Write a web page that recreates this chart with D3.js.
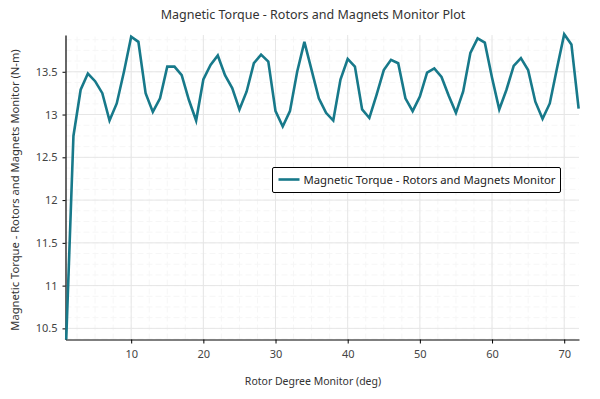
<!DOCTYPE html>
<html>
<head>
<meta charset="utf-8">
<script src="https://cdn.jsdelivr.net/npm/d3@7"></script>
<style>
	body { margin: 0; background: #fff; }
	text { font-family: "Noto Sans", "Open Sans", sans-serif; }
</style>
</head>
<body>
<svg id="chart" width="600" height="399"></svg>
<script>
// rotor angle (deg) and torque (N-m)
const degrees = [1, 2, 3, 4, 5, 6, 7, 8, 9, 10, 11, 12, 13, 14, 15, 16, 17, 18, 19, 20, 21, 22, 23, 24,
	25, 26, 27, 28, 29, 30, 31, 32, 33, 34, 35, 36, 37, 38, 39, 40, 41, 42, 43, 44, 45, 46, 47, 48,
	49, 50, 51, 52, 53, 54, 55, 56, 57, 58, 59, 60, 61, 62, 63, 64, 65, 66, 67, 68, 69, 70, 71, 72]
const torque = [10.37, 12.75, 13.29, 13.48, 13.39, 13.25, 12.93, 13.13, 13.5, 13.91, 13.85, 13.25,
	13.03, 13.19, 13.56, 13.56, 13.46, 13.17, 12.93, 13.41, 13.58, 13.69, 13.46, 13.31,
	13.06, 13.27, 13.6, 13.7, 13.62, 13.04, 12.86, 13.04, 13.5, 13.85, 13.52, 13.19,
	13.02, 12.93, 13.41, 13.65, 13.56, 13.06, 12.96, 13.23, 13.52, 13.64, 13.6, 13.19,
	13.04, 13.21, 13.49, 13.54, 13.44, 13.22, 13.02, 13.27, 13.72, 13.89, 13.84, 13.43,
	13.06, 13.29, 13.57, 13.66, 13.52, 13.15, 12.95, 13.13, 13.54, 13.94, 13.82, 13.07]
const xTicks = [10, 20, 30, 40, 50, 60, 70]
const yTicks = [10.5, 11, 11.5, 12, 12.5, 13, 13.5]
const seriesName = 'Magnetic Torque - Rotors and Magnets Monitor'

const svg = d3.select('#chart')
const x = d3.scaleLinear().domain([0.9, 72.05]).range([65.5, 579])
const y = d3.scaleLinear().domain([10.37, 13.93]).range([339.5, 35])

const xMinor = d3.range(2.5, 72, 2.5)
const yMinor = d3.range(10.375, 13.93, 0.125)

// grid, faint minor then major
const grid = svg.append('g').attr('class', 'grid')
grid.selectAll('line.ym').data(yMinor).join('line')
	.attr('x1', x.range()[0]).attr('x2', x.range()[1])
	.attr('y1', d => y(d)).attr('y2', d => y(d))
	.attr('stroke', '#f6f6f6').attr('stroke-dasharray', '6,3')
grid.selectAll('line.xm').data(xMinor).join('line')
	.attr('y1', y.range()[0]).attr('y2', y.range()[1])
	.attr('x1', d => x(d)).attr('x2', d => x(d))
	.attr('stroke', '#f6f6f6').attr('stroke-dasharray', '6,3')
grid.selectAll('line.y').data(yTicks).join('line')
	.attr('x1', x.range()[0]).attr('x2', x.range()[1])
	.attr('y1', d => y(d)).attr('y2', d => y(d))
	.attr('stroke', '#e6e6e6')
grid.selectAll('line.x').data(xTicks).join('line')
	.attr('y1', y.range()[0]).attr('y2', y.range()[1])
	.attr('x1', d => x(d)).attr('x2', d => x(d))
	.attr('stroke', '#e6e6e6')

// axes
const xAxis = svg.append('g').attr('transform', `translate(0,${y.range()[0]})`)
xAxis.call(d3.axisBottom(x).tickValues(xMinor).tickSize(3).tickFormat(''))
xAxis.call(d3.axisBottom(x).tickValues(xTicks).tickSize(4).tickSizeOuter(0))
xAxis.selectAll('text').attr('dy', '1.05em').attr('font-size', 11).attr('fill', '#444')
xAxis.selectAll('path,line').attr('stroke', '#000')

const yAxis = svg.append('g').attr('transform', `translate(${x.range()[0]},0)`)
yAxis.call(d3.axisLeft(y).tickValues(yMinor).tickSize(3).tickFormat(''))
yAxis.call(d3.axisLeft(y).tickValues(yTicks).tickSize(3).tickSizeOuter(0).tickFormat(d3.format('')))
yAxis.selectAll('text').attr('x', -8).attr('font-size', 11).attr('fill', '#444')
yAxis.selectAll('path,line').attr('stroke', '#000')
svg.selectAll('.domain').attr('stroke-width', 1.2)

// series
const pts = degrees.map((d, i) => [d, torque[i]])
svg.append('path')
	.datum(pts)
	.attr('fill', 'none')
	.attr('stroke', '#17798a')
	.attr('stroke-width', 2.6)
	.attr('stroke-linejoin', 'miter')
	.attr('d', d3.line().x(d => x(d[0])).y(d => y(d[1])))

// labels
svg.append('text').attr('x', 313).attr('y', 19).attr('text-anchor', 'middle')
	.attr('font-size', 12.5).attr('fill', '#333')
	.text('Magnetic Torque - Rotors and Magnets Monitor Plot')
svg.append('text').attr('x', 313).attr('y', 385).attr('text-anchor', 'middle')
	.attr('font-size', 10.5).attr('fill', '#333')
	.text('Rotor Degree Monitor (deg)')
svg.append('text').attr('transform', 'translate(19,190) rotate(-90)').attr('text-anchor', 'middle')
	.attr('font-size', 11.2).attr('fill', '#333')
	.text(seriesName + ' (N-m)')

// legend
const leg = svg.append('g').attr('transform', 'translate(272.5,167.5)')
leg.append('rect').attr('width', 288).attr('height', 25).attr('rx', 1.5)
	.attr('fill', '#fff').attr('stroke', '#000').attr('stroke-width', 1)
leg.append('line').attr('x1', 6).attr('x2', 27).attr('y1', 12).attr('y2', 12)
	.attr('stroke', '#17798a').attr('stroke-width', 2.6)
leg.append('text').attr('x', 31).attr('y', 16.5).attr('font-size', 11).attr('fill', '#222')
	.attr('textLength', 252).attr('lengthAdjust', 'spacingAndGlyphs')
	.text(seriesName)
</script>
</body>
</html>
